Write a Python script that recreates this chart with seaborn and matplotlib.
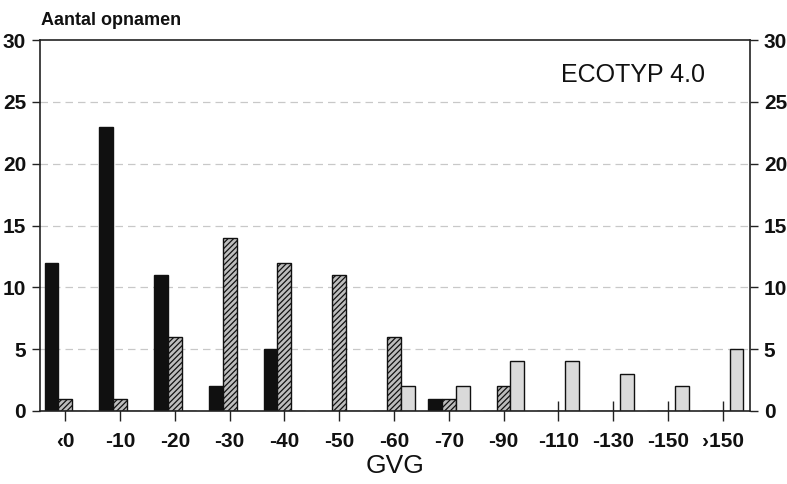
import matplotlib
matplotlib.use("Agg")
import matplotlib.pyplot as plt
import seaborn as sns
import pandas as pd

categories = ["\u20390", "-10", "-20", "-30", "-40", "-50", "-60", "-70", "-90", "-110", "-130", "-150", "\u203a150"]
series_names = ["zwart", "gearceerd", "licht"]
black_vals = [12, 23, 11, 2, 5, 0, 0, 1, 0, 0, 0, 0, 0]
hatched_vals = [1, 1, 6, 14, 12, 11, 6, 1, 2, 0, 0, 0, 0]
light_vals = [0, 0, 0, 0, 0, 0, 2, 2, 4, 4, 3, 2, 5]
y_ticks = [0, 5, 10, 15, 20, 25, 30]

rows = []
for name, vals in zip(series_names, [black_vals, hatched_vals, light_vals]):
    for c, v in zip(categories, vals):
        rows.append({"GVG": c, "n": v, "reeks": name})
df = pd.DataFrame(rows)

sns.set_theme(style="white")
plt.rcParams["font.family"] = ["Liberation Sans", "DejaVu Sans"]
plt.rcParams["hatch.linewidth"] = 0.9
plt.rcParams["hatch.color"] = "#222222"

fig = plt.figure(figsize=(7.87, 4.84), dpi=100)
ax = fig.add_axes([0.051, 0.151, 0.902, 0.766])

palette = {"zwart": "#101010", "gearceerd": "#bdbdbd", "licht": "#dadada"}
sns.barplot(data=df, x="GVG", y="n", hue="reeks", order=categories,
            hue_order=series_names, palette=palette, width=0.76,
            dodge=True, edgecolor="#111111", linewidth=1.0, ax=ax,
            legend=False, saturation=1)

hatches = {"zwart": None, "gearceerd": "//////", "licht": None}
for cont, name in zip(ax.containers, series_names):
    for p in cont.patches:
        if hatches[name]:
            p.set_hatch(hatches[name])

ax.set_ylim(0, 30)
ax.set_xlim(-0.46, 12.5)
ax.set_yticks(y_ticks)
ax.set_yticklabels([str(t) for t in y_ticks], fontsize=15, fontweight="bold", color="#111111")
ax.tick_params(axis="y", which="both", left=True, right=True, labelleft=True,
               labelright=True, length=6, width=1.0, color="#222222", pad=4,
               direction="out")
ax.tick_params(axis="x", bottom=True, length=14, width=1.0, color="#222222",
               direction="inout", pad=8, labelsize=15)
for lab in ax.get_xticklabels():
    lab.set_fontweight("bold")
    lab.set_color("#111111")
for t in ax.yaxis.get_major_ticks():
    t.label2.set_fontsize(15)
    t.label2.set_fontweight("bold")
    t.label2.set_color("#111111")

for y in y_ticks[1:-1]:
    ax.axhline(y, color="#c8c8c8", linestyle=(0, (6, 4)), linewidth=0.9, zorder=0)

for s in ax.spines.values():
    s.set_color("#222222")
    s.set_linewidth(1.2)

ax.set_xlabel("GVG", fontsize=19, color="#111111", labelpad=2)
ax.set_ylabel("")
fig.text(0.052, 0.958, "Aantal opnamen", fontsize=13, fontweight="bold",
         color="#111111", ha="left", va="center")
ax.text(0.937, 0.905, "ECOTYP 4.0", transform=ax.transAxes, fontsize=18,
        color="#111111", ha="right", va="center")

fig.savefig("out.png", dpi=100)
